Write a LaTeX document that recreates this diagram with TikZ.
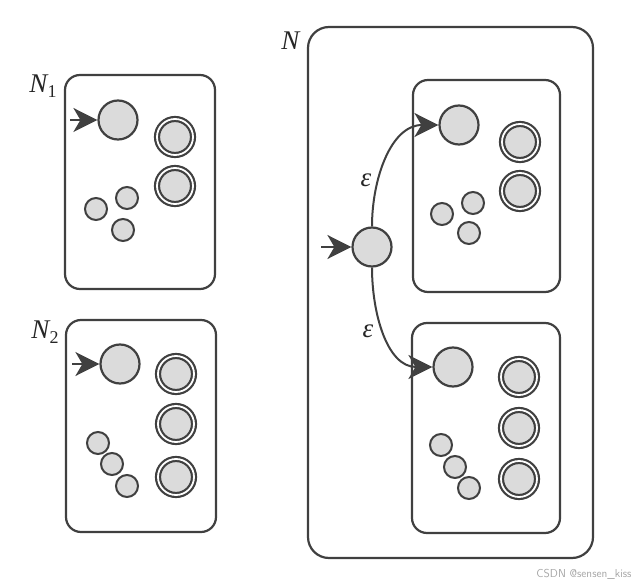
\documentclass[tikz,border=0pt]{standalone}
\usepackage{fontspec}
\setmainfont{Liberation Serif}
\usetikzlibrary{arrows.meta}
\definecolor{ln}{gray}{0.25}
\definecolor{fl}{gray}{0.86}
\tikzset{
  frame/.style={draw=ln, line width=2.2pt, rounded corners=15pt},
  bigframe/.style={draw=ln, line width=2.2pt, rounded corners=21pt},
  st/.style={circle, draw=ln, fill=fl, line width=2.2pt, minimum size=39pt, inner sep=0pt},
  sm/.style={circle, draw=ln, fill=fl, line width=2pt, minimum size=22pt, inner sep=0pt},
  acc/.style={circle, draw=ln, fill=fl, line width=2.2pt, minimum size=36pt, inner sep=0pt,
              double=white, double distance=1.8pt},
  myarrow/.tip={Stealth[length=24pt,width=24pt,inset=7pt]},
  tr/.style={draw=ln, line width=2pt, -myarrow},
  lab/.style={font=\fontsize{27}{27}\selectfont, text=black!85, inner sep=0pt}
}
\newcommand{\Nsub}[1]{\textit{N}\kern-1pt\raisebox{-0.35ex}{\fontsize{18}{18}\selectfont #1}}
\begin{document}
\begin{tikzpicture}[x=1pt,y=-1pt]
\useasboundingbox (0,0) rectangle (642,585);
% N1
\draw[frame] (65,75) rectangle (215,289);
\node[lab] (l1) at (43,86) {\Nsub{1}};
\node[st] (a0) at (118,120) {};
\coordinate (a0in) at (70,120);
\draw[tr] (a0in) -- (a0);
\node[acc] (a1) at (175,137) {};
\node[acc] (a2) at (175,186) {};
\node[sm] (a3) at (96,209) {};
\node[sm] (a4) at (127,198) {};
\node[sm] (a5) at (123,230) {};
% N2
\draw[frame] (66,320) rectangle (216,532);
\node[lab] (l2) at (45,332) {\Nsub{2}};
\node[st] (b0) at (120,364) {};
\coordinate (b0in) at (72,364);
\draw[tr] (b0in) -- (b0);
\node[acc] (b1) at (176,374) {};
\node[acc] (b2) at (176,424) {};
\node[acc] (b3) at (176,477) {};
\node[sm] (b4) at (98,443) {};
\node[sm] (b5) at (112,464) {};
\node[sm] (b6) at (127,486) {};
% N
\draw[bigframe] (308,27) rectangle (593,558);
\node[lab] (l) at (291,41) {\textit{N}};
\draw[frame] (413,80) rectangle (560,292);
\draw[frame] (412,323) rectangle (560,533);
\node[st] (q) at (372,247) {};
\coordinate (qin) at (321,247);
\draw[tr] (qin) -- (q);
% top inner
\node[st] (c0) at (459,125) {};
\node[acc] (c1) at (520,142) {};
\node[acc] (c2) at (520,191) {};
\node[sm] (c3) at (442,214) {};
\node[sm] (c4) at (473,203) {};
\node[sm] (c5) at (469,233) {};
% bottom inner
\node[st] (d0) at (453,367) {};
\node[acc] (d1) at (519,377) {};
\node[acc] (d2) at (519,428) {};
\node[acc] (d3) at (519,479) {};
\node[sm] (d4) at (441,445) {};
\node[sm] (d5) at (455,467) {};
\node[sm] (d6) at (469,488) {};
% epsilon transitions
\draw[tr] (q) to[out=90,in=180] (c0);
\draw[tr] (q) to[out=-90,in=180] (d0);
\node[lab] (e1) at (366,180) {\textit{ε}};
\node[lab] (e2) at (368,331) {\textit{ε}};
% watermark
\node[font=\sffamily\fontsize{11.5}{11.5}\selectfont, text=black!35] (wm) at (584,574) {CSDN @sensen\_kiss};
\end{tikzpicture}
\end{document}
